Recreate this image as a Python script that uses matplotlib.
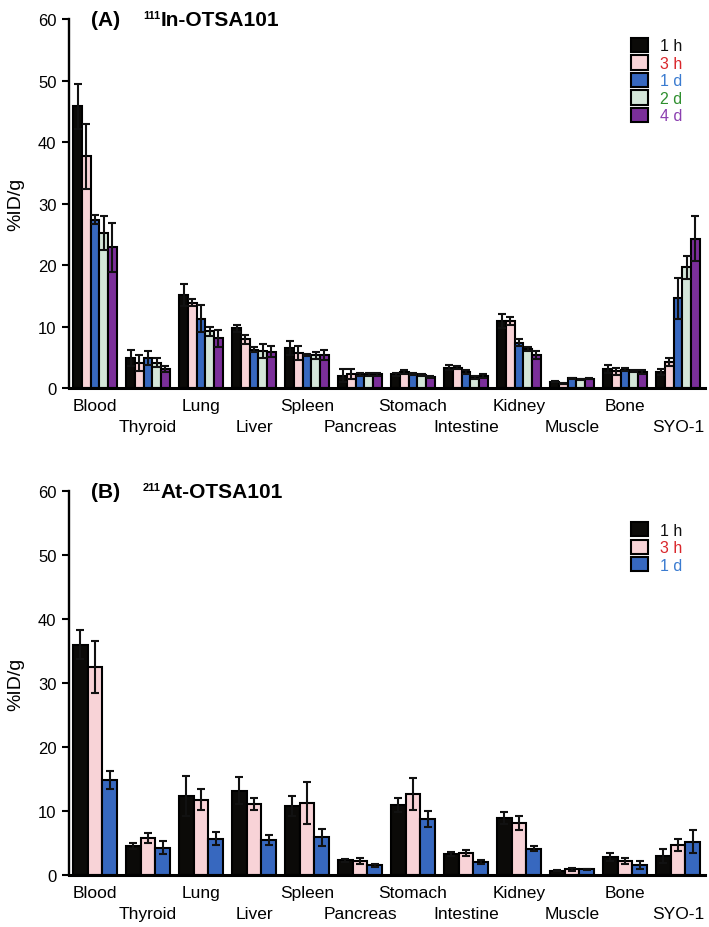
import numpy as np
import matplotlib.pyplot as plt
from matplotlib.patches import Patch

plt.rcParams['font.family'] = ['Liberation Sans', 'DejaVu Sans']

# === Data ===
organs = ["Blood", "Thyroid", "Lung", "Liver", "Spleen", "Pancreas",
          "Stomach", "Intestine", "Kidney", "Muscle", "Bone", "SYO-1"]

# (A) 111In-OTSA101, %ID/g (mean, sd)
in_1h = [45.8, 4.9, 15.1, 9.7, 6.5, 2.0, 2.2, 3.3, 10.9, 1.0, 3.1, 2.6]
in_1h_sd = [3.6, 1.3, 1.8, 0.6, 1.2, 1.1, 0.2, 0.4, 1.1, 0.1, 0.7, 0.5]
in_3h = [37.7, 4.1, 13.9, 7.9, 5.7, 2.3, 2.6, 3.3, 10.9, 0.7, 2.7, 4.2]
in_3h_sd = [5.3, 1.3, 0.5, 0.7, 1.1, 0.8, 0.4, 0.2, 0.7, 0.1, 0.6, 0.7]
in_1d = [27.4, 4.9, 11.3, 6.2, 5.4, 2.2, 2.3, 2.6, 7.4, 1.6, 3.0, 14.6]
in_1d_sd = [0.7, 1.1, 2.2, 0.4, 0.2, 0.2, 0.2, 0.3, 0.5, 0.1, 0.2, 3.3]
in_2d = [25.2, 4.1, 9.2, 6.0, 5.3, 2.2, 2.1, 1.7, 6.4, 1.4, 2.8, 19.6]
in_2d_sd = [2.7, 0.7, 0.8, 1.2, 0.6, 0.2, 0.2, 0.3, 0.3, 0.1, 0.2, 1.9]
in_4d = [22.9, 3.1, 8.1, 5.9, 5.4, 2.2, 1.8, 1.9, 5.4, 1.5, 2.6, 24.3]
in_4d_sd = [4.0, 0.5, 1.4, 0.9, 0.8, 0.3, 0.2, 0.3, 0.7, 0.1, 0.3, 3.7]

# (B) 211At-OTSA101, %ID/g (mean, sd)
at_1h = [36.0, 4.5, 12.4, 13.2, 10.8, 2.3, 11.0, 3.3, 8.9, 0.7, 2.8, 3.0]
at_1h_sd = [2.3, 0.5, 3.1, 2.1, 1.5, 0.2, 1.1, 0.3, 1.0, 0.1, 0.6, 1.1]
at_3h = [32.5, 5.8, 11.8, 11.1, 11.2, 2.2, 12.7, 3.4, 8.1, 0.9, 2.2, 4.7]
at_3h_sd = [4.0, 0.8, 1.7, 0.9, 3.3, 0.4, 2.5, 0.5, 1.1, 0.2, 0.4, 1.0]
at_1d = [14.8, 4.3, 5.7, 5.5, 5.9, 1.5, 8.75, 2.1, 4.1, 0.9, 1.6, 5.2]
at_1d_sd = [1.4, 1.0, 1.0, 0.75, 1.3, 0.3, 1.2, 0.3, 0.4, 0.1, 0.6, 1.8]

labels_a = ["1 h", "3 h", "1 d", "2 d", "4 d"]
labels_b = ["1 h", "3 h", "1 d"]
fill_colors = ["#0b0a08", "#f8d3d7", "#3768bf", "#d4e6d9", "#7b2f9a"]
text_colors = ["#111111", "#d9262b", "#3a7bd0", "#2f8f2f", "#8b3fb0"]


def draw_panel(ax, means, sds, labels, width, tag, isotope, name, name_x, leg_top):
    x = np.arange(len(organs))
    n = len(means)
    for i in range(n):
        pos = x + (i - (n - 1) / 2) * width
        ax.bar(pos, means[i], width, color=fill_colors[i], edgecolor="black",
               linewidth=1.5, zorder=2)
        ax.errorbar(pos, means[i], yerr=sds[i], fmt="none", ecolor="#111111",
                    elinewidth=1.5, capsize=3, capthick=1.5, zorder=3)

    ax.set_xlim(-0.49, 11.51)
    ax.set_ylim(0, 60)
    ax.set_yticks(range(0, 61, 10))
    ax.tick_params(axis="y", labelsize=12, length=5, width=1.5, direction="out", pad=4)
    ax.set_xticks(x)
    ax.set_xticklabels(organs, fontsize=12.5)
    ax.tick_params(axis="x", length=0)
    for i, t in enumerate(ax.xaxis.get_major_ticks()):
        t.set_pad(7 if i % 2 == 0 else 22)
    for s in ["top", "right"]:
        ax.spines[s].set_visible(False)
    ax.spines["left"].set_linewidth(1.7)
    ax.spines["bottom"].set_linewidth(2.2)
    ax.set_ylabel("%ID/g", fontsize=14, labelpad=10)

    # panel title: tag, small superscript mass number, compound name
    h = ax.get_position().height * 928
    ax.text(0.035, 1.0, tag, transform=ax.transAxes, fontsize=15,
            fontweight="bold", va="center", ha="left")
    ax.text(0.1164, 1.0 + 9 / h, isotope, transform=ax.transAxes, fontsize=8,
            fontweight="bold", va="top", ha="left")
    ax.text(name_x, 1.0, name, transform=ax.transAxes, fontsize=15,
            fontweight="bold", va="center", ha="left")

    handles = [Patch(facecolor=fill_colors[i], edgecolor="black", linewidth=1.5)
               for i in range(n)]
    leg = ax.legend(handles, labels, loc="upper right", bbox_to_anchor=(0.977, leg_top),
                    frameon=False, fontsize=11.5, handlelength=1.05, handleheight=1.0,
                    handletextpad=0.75, labelspacing=0.12, borderpad=0)
    for t, c in zip(leg.get_texts(), text_colors):
        t.set_color(c)


fig = plt.figure(figsize=(7.09, 9.28), dpi=100)
ax_a = fig.add_axes([0.0973, 0.5808, 0.897, 0.3976])
ax_b = fig.add_axes([0.0973, 0.0560, 0.897, 0.4138])

draw_panel(ax_a, [in_1h, in_3h, in_1d, in_2d, in_4d],
           [in_1h_sd, in_3h_sd, in_1d_sd, in_2d_sd, in_4d_sd],
           labels_a, 0.164, "(A)", "111", "In-OTSA101", 0.1445, 0.971)
draw_panel(ax_b, [at_1h, at_3h, at_1d], [at_1h_sd, at_3h_sd, at_1d_sd],
           labels_b, 0.28, "(B)", "211", "At-OTSA101", 0.1445, 0.94)

fig.savefig("out.png", dpi=100)
